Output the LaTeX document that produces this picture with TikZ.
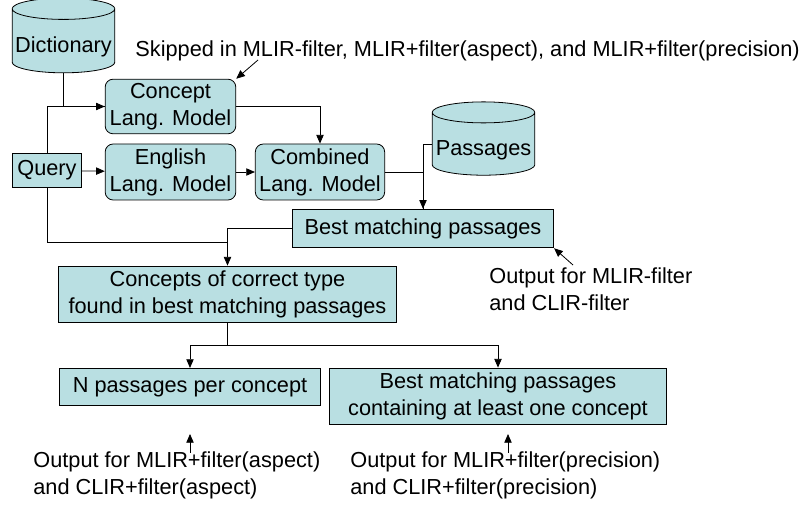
\documentclass[tikz,border=0pt]{standalone}
\usepackage{fontspec}
\setmainfont{Liberation Sans}
\usetikzlibrary{shapes.geometric,arrows.meta}
\definecolor{boxfill}{RGB}{185,223,226}
\tikzset{
  box/.style={draw,fill=boxfill,rectangle,align=center,inner sep=0pt},
  rbox/.style={box,rounded corners=6pt},
  db/.style={draw,fill=boxfill,cylinder,shape border rotate=90,aspect=0.22,inner sep=0pt,align=center},
  note/.style={align=left,anchor=west,inner sep=0pt},
}
\newcommand{\lowtext}[1]{\raisebox{-4.5pt}[\height][\depth]{#1}}
\begin{document}
\begin{tikzpicture}[x=0.75pt,y=-0.75pt,font=\fontsize{16.3}{20.2}\selectfont,semithick,>={Triangle[length=6.5pt,width=5.5pt]}]
\useasboundingbox (0,0) rectangle (803,505);
% stores and boxes
\node[db,minimum width=77pt,minimum height=56pt] (dict) at (63.5,41) {\lowtext{Dictionary}};
\node[db,minimum width=77pt,minimum height=55pt] (passages) at (483.5,144) {\lowtext{Passages}};
\node[rbox,minimum width=98pt,minimum height=41pt] (concept) at (170.5,106.5) {Concept\\Lang. Model};
\node[box,minimum width=52pt,minimum height=26pt] (query) at (47,170.5) {Query};
\node[rbox,minimum width=98pt,minimum height=42pt] (english) at (170.5,172) {English\\Lang. Model};
\node[rbox,minimum width=97pt,minimum height=42pt] (combined) at (320,172) {Combined\\Lang. Model};
\node[box,minimum width=196pt,minimum height=29pt] (best) at (423,228.5) {Best matching passages};
\node[box,minimum width=253pt,minimum height=42pt] (concepts) at (227.5,294) {Concepts of correct type\\found in best matching passages};
\node[box,minimum width=196pt,minimum height=28pt] (npass) at (190,387) {N passages per concept};
\node[box,minimum width=253pt,minimum height=42pt] (bestcont) at (498,396) {Best matching passages\\containing at least one concept};
% notes
\node[note] (skip) at (135,51) {Skipped in MLIR-filter, MLIR+filter(aspect), and MLIR+filter(precision)};
\node[note] (outmlir) at (489,289.5) {Output for MLIR-filter\\and CLIR-filter};
\node[note] (outasp) at (33,475.5) {Output for MLIR+filter(aspect)\\and CLIR+filter(aspect)};
\node[note] (outprec) at (350,475.5) {Output for MLIR+filter(precision)\\and CLIR+filter(precision)};
% connectors
\draw[->] (dict.south) |- (concept.west);
\draw (query.north) |- (concept.west);
\draw[->] (query) -- (english);
\draw[->] (english) -- (combined);
\draw[->] (concept.east) -| (combined.north);
\draw[->] (passages.west) -| (best.north);
\draw (combined.east) -| (best.north);
\coordinate (qjoin) at (227.5,242);
\draw (query.south) |- (qjoin);
\draw[->] (best.west) -| (concepts.north);
\draw (concepts.south) -- ++(0,23) coordinate (split);
\draw[->] (split) -| (npass.north);
\draw[->] (split) -| (bestcont.north);
% pointers
\coordinate (skiptail) at (258,60);
\draw[->] (skiptail) -- (concept.north east);
\coordinate (mlirtail) at (573,265);
\draw[->] (mlirtail) -- (best.south east);
\coordinate (asptail) at (190,453);
\coordinate (asphead) at (190,434);
\draw[->] (asptail) -- (asphead);
\coordinate (prectail) at (508,453);
\coordinate (prechead) at (508,434);
\draw[->] (prectail) -- (prechead);
\end{tikzpicture}
\end{document}
